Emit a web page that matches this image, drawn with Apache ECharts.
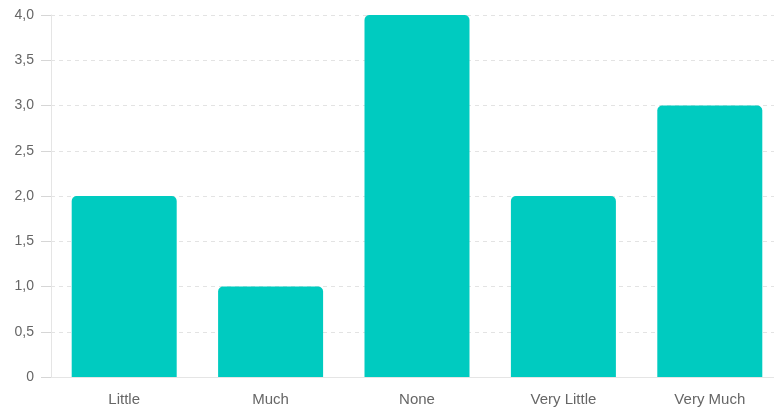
<!DOCTYPE html>
<html>
<head>
<meta charset="utf-8">
<script src="https://cdn.jsdelivr.net/npm/echarts@6/dist/echarts.min.js"></script>
<style>html,body{margin:0;padding:0;background:#fff;overflow:hidden}#c{width:783px;height:410px}</style>
</head>
<body>
<div id="c"></div>
<script>
var categories = ['Little', 'Much', 'None', 'Very Little', 'Very Much'];
var values = [2, 1, 4, 2, 3];
var yMin = 0, yMax = 4, yStep = 0.5;

var chart = echarts.init(document.getElementById('c'), null, {renderer: 'canvas'});
chart.setOption({
  animation: false,
  textStyle: {fontFamily: 'Liberation Sans, Arial, sans-serif'},
  grid: {left: 51, right: 0, top: 15, bottom: 33, containLabel: false},
  xAxis: {
    type: 'category',
    data: categories,
    axisLine: {show: true, lineStyle: {color: '#e5e5e5', width: 1}},
    axisTick: {show: false},
    axisLabel: {color: '#666', fontSize: 15, margin: 15, fontFamily: 'Liberation Sans, Arial, sans-serif'},
    splitLine: {show: false}
  },
  yAxis: {
    type: 'value',
    min: yMin, max: yMax, interval: yStep,
    axisLine: {show: true, lineStyle: {color: '#e5e5e5', width: 1}},
    axisTick: {show: true, inside: false, length: 10, lineStyle: {color: '#d6d6d6', width: 1}},
    axisLabel: {
      color: '#666', fontSize: 14, margin: 17,
      fontFamily: 'Liberation Sans, Arial, sans-serif',
      formatter: function (v) { return v === 0 ? '0' : v.toFixed(1).replace('.', ','); }
    },
    splitLine: {show: true, lineStyle: {color: '#e3e3e3', type: [4, 4], width: 1}}
  },
  series: [{
    type: 'bar',
    data: values,
    barWidth: 105,
    itemStyle: {color: '#00cbc0', borderRadius: [5, 5, 0, 0]}
  }]
});
</script>
</body>
</html>
